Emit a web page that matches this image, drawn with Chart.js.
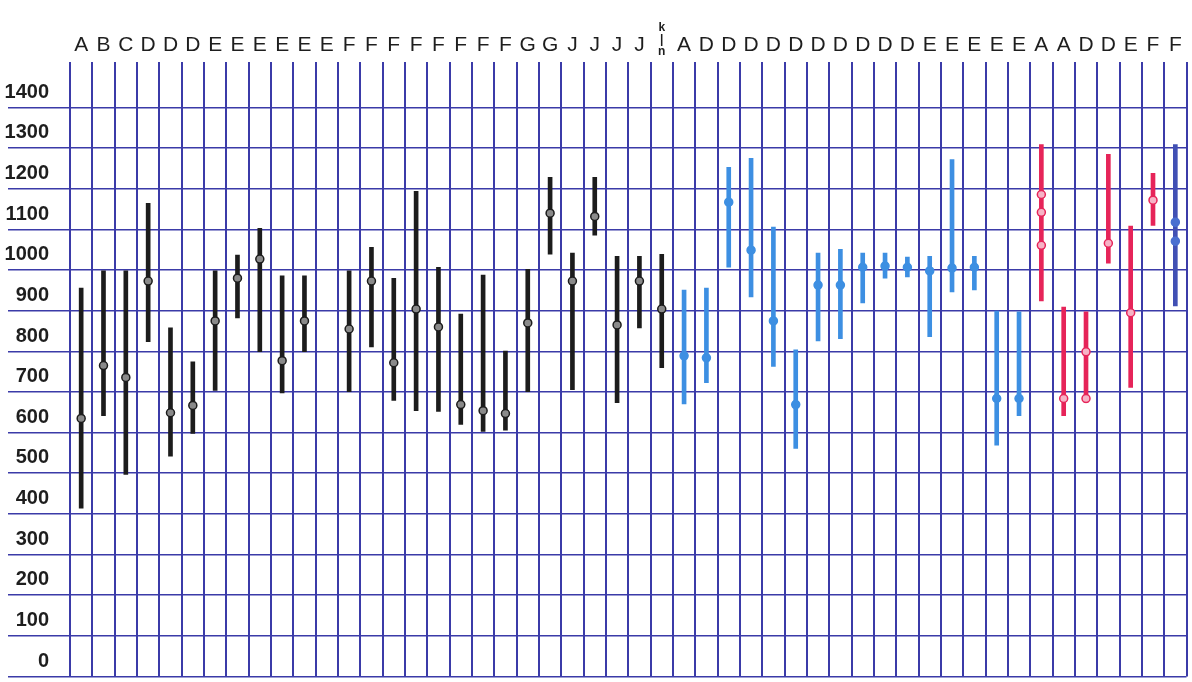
<!DOCTYPE html>
<html>
<head>
<meta charset="utf-8">
<script src="https://cdn.jsdelivr.net/npm/chart.js@4"></script>
<style>
  html, body { margin: 0; padding: 0; background: #fff; }
  #wrap { width: 1192px; height: 682px; }
</style>
</head>
<body>
<div id="wrap"><canvas id="grafico"></canvas></div>
<script>
const categorias = [
  'A', 'B', 'C', 'D', 'D', 'D', 'E', 'E', 'E', 'E',
  'E', 'E', 'F', 'F', 'F', 'F', 'F', 'F', 'F', 'F',
  'G', 'G', 'J', 'J', 'J', 'J', ['k', '|', 'n'], 'A', 'D', 'D',
  'D', 'D', 'D', 'D', 'D', 'D', 'D', 'D', 'E', 'E',
  'E', 'E', 'E', 'A', 'A', 'D', 'D', 'E', 'F', 'F'
];

const minimos = [
  364, 592, 447, 774, 492, 548, 654, 832, 749, 648,
  749, null, 651, 761, 629, 604, 602, 570, 553, 556,
  651, 989, 656, 1036, 624, 808, 710, 621, 673, 957,
  884, 713, 511, 776, 781, 869, 930, 933, 786, 896,
  901, 519, 592, 874, 592, 624, 967, 661, 1060, 862
];

const maximos = [
  906, 948, 948, 1114, 808, 724, 948, 987, 1053, 936,
  936, null, 948, 1006, 930, 1144, 957, 842, 938, 751,
  952, 1178, 992, 1178, 984, 984, 989, 901, 906, 1203,
  1225, 1056, 754, 992, 1001, 992, 992, 982, 984, 1222,
  984, 849, 847, 1259, 859, 847, 1235, 1058, 1188, 1259
];

const pontos = [
  585, 715, 686, 923, 599, 617, 825, 930, 977, 727,
  825, null, 805, 923, 722, 854, 810, 619, 604, 597,
  820, 1090, 923, 1082, 815, 923, 854, 739, 734, 1117,
  999, 825, 619, 913, 913, 957, 960, 957, 948, 955,
  957, 634, 634, 1136, 634, 749, 1016, 845, 1122, 1068
];

const segundoPonto = [
  null, null, null, null, null, null, null, null, null, null,
  null, null, null, null, null, null, null, null, null, null,
  null, null, null, null, null, null, null, null, null, null,
  null, null, null, null, null, null, null, null, null, null,
  null, null, null, 1092, null, 634, null, null, null, 1021
];

const terceiroPonto = [
  null, null, null, null, null, null, null, null, null, null,
  null, null, null, null, null, null, null, null, null, null,
  null, null, null, null, null, null, null, null, null, null,
  null, null, null, null, null, null, null, null, null, null,
  null, null, null, 1011, null, null, null, null, null, null
];

const rotulosY = [0, 100, 200, 300, 400, 500, 600, 700, 800, 900, 1000, 1100, 1200, 1300, 1400];
const linhasY = [-50, 50, 150, 250, 350, 450, 550, 650, 750, 850, 950, 1050, 1150, 1250, 1350];

const corGrade = '#3b3ba8';

function corDaBarra(i) {
  if (i <= 26) return '#1c1c1c';
  if (i <= 42) return '#3d8fe2';
  if (i <= 48) return '#e62459';
  return '#4150b4';
}

function corDoPonto(i) {
  if (i <= 26) return '#1c1c1c';
  if (i <= 42) return '#3d8fe2';
  if (i <= 48) return '#e62459';
  return '#4a6fd0';
}

function preenchimento(i) {
  if (i <= 26) return '#8a8a8a';
  if (i <= 42) return '#3d8fe2';
  if (i <= 48) return '#f6b3c6';
  return '#4a6fd0';
}

function datasetPontos(dados) {
  return {
    type: 'line',
    data: dados,
    showLine: false,
    yAxisID: 'y',
    pointRadius: 4,
    pointBorderWidth: 1.5,
    pointBackgroundColor: ctx => preenchimento(ctx.dataIndex),
    pointBorderColor: ctx => corDoPonto(ctx.dataIndex),
    order: 0
  };
}

let chart;

function criarGrafico() {
  const ctx = document.getElementById('grafico').getContext('2d');

  chart = new Chart(ctx, {
    type: 'bar',
    data: {
      labels: categorias,
      datasets: [
        {
          type: 'bar',
          data: maximos.map((alto, i) => alto == null ? null : [minimos[i], alto]),
          backgroundColor: ctx => corDaBarra(ctx.dataIndex),
          barThickness: 4,
          yAxisID: 'y',
          order: 1
        },
        datasetPontos(pontos),
        datasetPontos(segundoPonto),
        datasetPontos(terceiroPonto)
      ]
    },
    options: {
      responsive: true,
      maintainAspectRatio: false,
      animation: false,
      layout: { padding: { left: 0, right: 4, top: 0, bottom: 1 } },
      plugins: {
        legend: { display: false },
        tooltip: { enabled: false }
      },
      scales: {
        x: {
          position: 'top',
          offset: true,
          border: { display: false },
          grid: {
            offset: true,
            color: corGrade,
            lineWidth: 2,
            drawTicks: false
          },
          ticks: {
            autoSkip: false,
            maxRotation: 0,
            padding: 4,
            color: '#1e1e1e',
            font: ctx => ctx.index === 26
              ? { family: 'Liberation Sans', size: 12, weight: 'bold', lineHeight: 1.0 }
              : { family: 'Liberation Sans', size: 21 }
          },
          afterFit: scale => { scale.height = 62; }
        },
        y: {
          position: 'left',
          min: -50,
          max: 1462,
          weight: 1,
          border: { display: false },
          grid: { display: false, drawTicks: false },
          ticks: {
            padding: 21,
            labelOffset: 5,
            color: '#1e1e1e',
            font: { family: "'Liberation Sans Narrow', 'Liberation Sans'", size: 20, weight: 'bold' },
            callback: v => String(v)
          },
          afterBuildTicks: scale => {
            scale.ticks = rotulosY.map(v => ({ value: v }));
          },
          afterFit: scale => {
            scale.width = 70;
            scale.paddingTop = 0;
            scale.paddingBottom = 0;
          }
        },
        yGrade: {
          position: 'left',
          min: -50,
          max: 1462,
          weight: 0,
          border: { display: false },
          grid: {
            color: corGrade,
            lineWidth: 1.6,
            drawTicks: true,
            tickLength: 62
          },
          ticks: { display: false },
          afterBuildTicks: scale => {
            scale.ticks = linhasY.map(v => ({ value: v }));
          },
          afterFit: scale => {
            scale.width = 0;
            scale.paddingTop = 0;
            scale.paddingBottom = 0;
          }
        }
      }
    }
  });
}

window.onload = () => criarGrafico();
</script>
</body>
</html>
